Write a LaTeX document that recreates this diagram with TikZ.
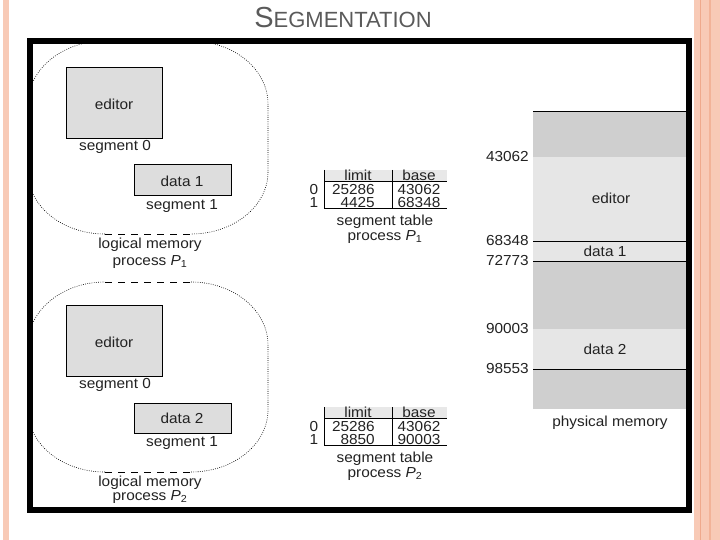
\documentclass[tikz,border=0pt]{standalone}
\usepackage{fontspec}
\setmainfont{Liberation Sans}
\newfontfamily\lblfont[FakeStretch=1.06]{Liberation Sans}
\definecolor{memdark}{HTML}{CFCFCF}
\definecolor{memlight}{HTML}{E6E6E6}
\definecolor{boxgray}{HTML}{DDDDDD}
\definecolor{hdrgray}{HTML}{E8E8E8}
\definecolor{pinkA}{HTML}{F8CAB6}
\definecolor{pinkline}{HTML}{EFA98C}
\definecolor{titlegray}{HTML}{5A5A5A}
\definecolor{txt}{HTML}{222222}
\newcommand\lmshape[4]{% left, top, right, bottom
  \draw[ovaldot] (#1,#2+63) arc[start angle=180,end angle=270,x radius=77,y radius=63]
    (#3-77,#2) arc[start angle=-90,end angle=0,x radius=77,y radius=63]
    -- (#3,#4-62) arc[start angle=0,end angle=90,x radius=77,y radius=62]
    (#1+77,#4) arc[start angle=90,end angle=180,x radius=77,y radius=62] -- (#1,#2+63);
  \draw[ovaldash] (#1+77,#2) -- (#3-77,#2);
  \draw[ovaldash] (#1+77,#4) -- (#3-77,#4);
}
\begin{document}
\begin{tikzpicture}[x=1pt,y=-1pt,
  lbl/.style={font=\lblfont\fontsize{14.5}{16}\selectfont, text=txt, inner sep=0pt},
  ovaldot/.style={line width=0.6pt, dash pattern=on 0.8pt off 1.4pt},
  ovaldash/.style={line width=0.7pt, dash pattern=on 7pt off 6pt},
  segbox/.style={draw=black, line width=0.6pt, fill=boxgray},
  tline/.style={line width=0.7pt},
  memline/.style={line width=0.8pt}]
\useasboundingbox (0,0) rectangle (720,540);
% side borders
\fill[pinkA] (3,0) rectangle (8.5,540);
\fill[pinkA] (694,0) rectangle (720,540);
\fill[pinkline] (699.5,0) rectangle (701,540);
\fill[pinkline!70!pinkA] (709,0) rectangle (711,540);
% title
\node[anchor=base, text=titlegray, inner sep=0pt] (title) at (343,28)
  {\fontsize{29}{30}\selectfont S\fontsize{22}{24}\selectfont EGMENTATION};
% logical memory P1
\lmshape{28}{41}{268}{234}
\draw[segbox] (66,67) rectangle (162,138);
\node[lbl] (ed1) at (114,104) {editor};
\node[lbl] (s01) at (115,147) {segment 0};
\draw[segbox] (134,164) rectangle (231,195);
\node[lbl] (d1) at (182,181) {data 1};
\node[lbl] (s11) at (182,206) {segment 1};
\node[lbl] (lm1) at (150,245) {logical memory};
\node[lbl] (pp1) at (150,262) {process \textit{P}\textsubscript{1}};
% logical memory P2
\lmshape{28}{282}{268}{472}
\draw[segbox] (66,305) rectangle (162,376);
\node[lbl] (ed2) at (114,342) {editor};
\node[lbl] (s02) at (115,385) {segment 0};
\draw[segbox] (134,403) rectangle (231,433);
\node[lbl] (d2) at (182,418) {data 2};
\node[lbl] (s12) at (182,443) {segment 1};
\node[lbl] (lm2) at (150,483) {logical memory};
\node[lbl] (pp2) at (150,497) {process \textit{P}\textsubscript{2}};
% segment table P1
\fill[hdrgray] (324,170) rectangle (447,181);
\draw[tline] (324,170) -- (324,208) (392,170) -- (392,208)
  (324,181) -- (447,181) (324,208) -- (447,208);
\node[lbl] (lim1) at (358,175.5) {limit};
\node[lbl] (bas1) at (419,175.5) {base};
\node[lbl] (r01) at (314,190) {0};
\node[lbl] (r11) at (314,203) {1};
\node[lbl, anchor=east] (v011) at (375,190) {25286};
\node[lbl, anchor=east] (v111) at (375,203) {4425};
\node[lbl] (v021) at (419,190) {43062};
\node[lbl] (v121) at (419,203) {68348};
\node[lbl] (st1) at (385,222) {segment table};
\node[lbl] (sp1) at (385,237) {process \textit{P}\textsubscript{1}};
% segment table P2
\fill[hdrgray] (324,407) rectangle (447,418);
\draw[tline] (324,407) -- (324,445) (392,407) -- (392,445)
  (324,418) -- (447,418) (324,445) -- (447,445);
\node[lbl] (lim2) at (358,412.5) {limit};
\node[lbl] (bas2) at (419,412.5) {base};
\node[lbl] (r02) at (314,427) {0};
\node[lbl] (r12) at (314,440) {1};
\node[lbl, anchor=east] (v012) at (375,427) {25286};
\node[lbl, anchor=east] (v112) at (375,440) {8850};
\node[lbl] (v022) at (419,427) {43062};
\node[lbl] (v122) at (419,440) {90003};
\node[lbl] (st2) at (385,459) {segment table};
\node[lbl] (sp2) at (385,474) {process \textit{P}\textsubscript{2}};
% physical memory
\fill[memdark] (533,111) rectangle (689,409);
\fill[memlight] (533,157) rectangle (689,261);
\fill[memlight] (533,329) rectangle (689,369);
\draw[memline] (533,111) -- (689,111) (533,241) -- (689,241)
  (533,261) -- (689,261) (533,369) -- (689,369);
\node[lbl] (pe) at (611,198) {editor};
\node[lbl] (pd1) at (605,251) {data 1};
\node[lbl] (pd2) at (605,349) {data 2};
\node[lbl] (pm) at (610,423) {physical memory};
\node[lbl, anchor=east] (a1) at (529,157) {43062};
\node[lbl, anchor=east] (a2) at (529,241) {68348};
\node[lbl, anchor=east] (a3) at (529,261) {72773};
\node[lbl, anchor=east] (a4) at (529,329) {90003};
\node[lbl, anchor=east] (a5) at (529,369) {98553};
% frame
\draw[line width=6pt] (30,41) rectangle (689,510);
\end{tikzpicture}
\end{document}
